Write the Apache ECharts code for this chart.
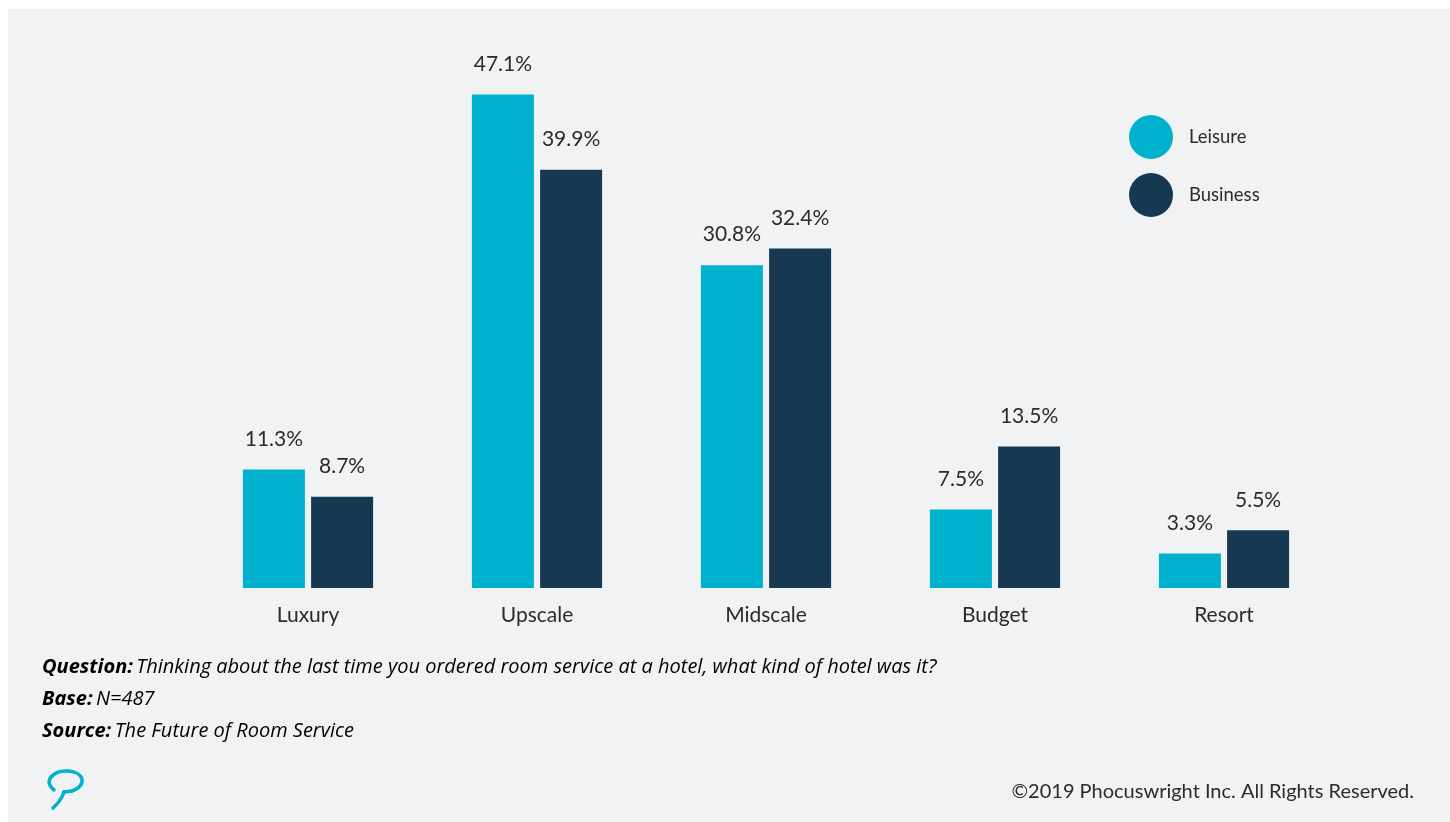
<!DOCTYPE html>
<html>
<head>
<meta charset="utf-8">
<script src="https://cdn.jsdelivr.net/npm/echarts@6/dist/echarts.min.js"></script>
<style>
  html, body { margin: 0; padding: 0; background: #ffffff; }
  #chart { position: absolute; left: 8px; top: 9px; width: 1442px; height: 813px; background: #f1f2f4; }
</style>
</head>
<body>
<div id="chart"></div>
<script>
// Hotel type at last room-service order, share of respondents (%)
const categories = ['Luxury', 'Upscale', 'Midscale', 'Budget', 'Resort'];
const leisure = [11.3, 47.1, 30.8, 7.5, 3.3];
const business = [8.7, 39.9, 32.4, 13.5, 5.5];
const seriesNames = ['Leisure', 'Business'];

const TEAL = '#00b1cd';
const NAVY = '#163850';
const TEXT = '#2b2b2b';
const FONT = 'Lato, "Noto Sans", sans-serif';
const NOTE_FONT = '"Open Sans", Lato, sans-serif';

const chart = echarts.init(document.getElementById('chart'), null, { renderer: 'canvas' });

const labelStyle = {
  show: true,
  position: 'top',
  distance: 20,
  fontFamily: FONT,
  fontSize: 21,
  color: TEXT,
  formatter: p => p.value.toFixed(1) + '%'
};

const footRich = {
  b: { fontFamily: NOTE_FONT, fontSize: 20, fontWeight: 'bold', fontStyle: 'italic', color: TEXT },
  n: { fontFamily: NOTE_FONT, fontSize: 20, fontStyle: 'italic', color: TEXT }
};

const logoStroke = { fill: null, stroke: TEAL, lineWidth: 3.5, lineCap: 'round' };

chart.setOption({
  backgroundColor: '#f1f2f4',
  animation: false,
  grid: { left: 185.5, right: 111.5, top: 55, bottom: 234 },
  legend: {
    orient: 'vertical',
    left: 1116,
    top: 101,
    icon: 'circle',
    itemWidth: 44,
    itemHeight: 44,
    itemGap: 14,
    data: seriesNames,
    textStyle: { fontFamily: FONT, fontSize: 18.5, color: TEXT, padding: [0, 0, 0, 11] }
  },
  xAxis: {
    type: 'category',
    data: categories,
    axisLine: { show: false },
    axisTick: { show: false },
    axisLabel: { fontFamily: FONT, fontSize: 21, color: TEXT, margin: 17 }
  },
  yAxis: {
    type: 'value',
    min: 0,
    max: 50,
    show: false,
    splitLine: { show: false }
  },
  series: [
    {
      name: seriesNames[0],
      type: 'bar',
      data: leisure,
      barWidth: 62,
      barGap: '10%',
      itemStyle: { color: TEAL },
      label: labelStyle
    },
    {
      name: seriesNames[1],
      type: 'bar',
      data: business,
      barWidth: 62,
      barGap: '10%',
      itemStyle: { color: NAVY },
      label: labelStyle
    }
  ],
  graphic: [
    {
      type: 'text',
      left: 34,
      top: 648,
      style: {
        rich: footRich,
        text: '{b|Question:} {n|Thinking about the last time you ordered room service at a hotel, what kind of hotel was it?}'
      }
    },
    {
      type: 'text',
      left: 34,
      top: 680,
      style: { rich: footRich, text: '{b|Base:} {n|N=487}' }
    },
    {
      type: 'text',
      left: 34,
      top: 712,
      style: { rich: footRich, text: '{b|Source:} {n|The Future of Room Service}' }
    },
    {
      type: 'text',
      right: 36,
      top: 773,
      style: {
        text: '\u00a92019 Phocuswright Inc. All Rights Reserved.',
        font: '20px ' + FONT,
        fill: TEXT
      }
    },
    // speech-bubble brand mark
    {
      type: 'bezierCurve',
      shape: { x1: 46, y1: 781, cpx1: 34, cpy1: 772, cpx2: 46, cpy2: 761, x2: 60, y2: 762 },
      style: logoStroke
    },
    {
      type: 'bezierCurve',
      shape: { x1: 60, y1: 762, cpx1: 77, cpy1: 763, cpx2: 79, cpy2: 777, x2: 64, y2: 782 },
      style: logoStroke
    },
    {
      type: 'line',
      shape: { x1: 64, y1: 782, x2: 56, y2: 783 },
      style: logoStroke
    },
    {
      type: 'bezierCurve',
      shape: { x1: 56, y1: 783, cpx1: 53, cpy1: 792, x2: 45, y2: 799 },
      style: logoStroke
    }
  ]
});
</script>
</body>
</html>
